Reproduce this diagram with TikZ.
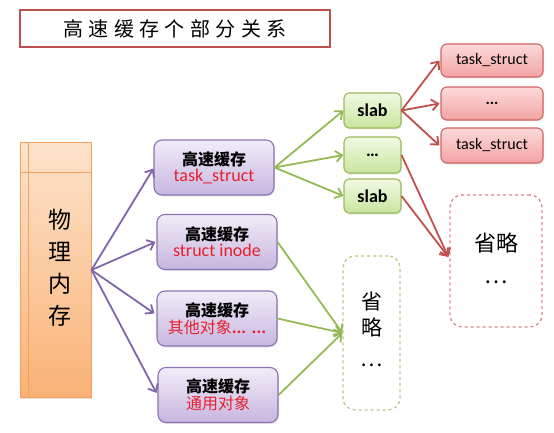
\documentclass[tikz,border=0pt]{standalone}
\usepackage{fontspec}
\setmainfont{Carlito}
\newfontfamily\cjk{Noto Sans CJK SC}
\usetikzlibrary{arrows.meta,shadows,calc}
\definecolor{pborder}{HTML}{8B72B0}
\definecolor{ptop}{HTML}{F1ECF8}
\definecolor{pbot}{HTML}{C7B6E0}
\definecolor{gborder}{HTML}{9BBB59}
\definecolor{gtop}{HTML}{F2F9E4}
\definecolor{gbot}{HTML}{C9E59E}
\definecolor{rborder}{HTML}{D06562}
\definecolor{rtop}{HTML}{FCDADA}
\definecolor{rbot}{HTML}{F3A3A3}
\definecolor{oborder}{HTML}{F5A05A}
\definecolor{otop}{HTML}{FDE3CB}
\definecolor{obot}{HTML}{F9B276}
\definecolor{titleborder}{HTML}{C0504D}
\definecolor{redtext}{HTML}{E8202E}
\definecolor{parrow}{HTML}{7F66AA}
\definecolor{garrow}{HTML}{95B954}
\definecolor{rarrow}{HTML}{C0504D}
\definecolor{rdash}{HTML}{D48A88}
\definecolor{gdash}{HTML}{B5CC8A}
\begin{document}
\begin{tikzpicture}[x=1pt,y=-1pt,
  shade/.style={drop shadow={opacity=0.2,shadow xshift=1pt,shadow yshift=-1.5pt}},
  cache/.style={shade,rounded corners=8pt,draw=pborder,line width=1.1pt,
    top color=ptop,bottom color=pbot,minimum width=120pt,minimum height=55pt,
    align=center,inner sep=0pt},
  slabbox/.style={shade,rounded corners=5pt,draw=gborder,line width=1.1pt,
    top color=gtop,bottom color=gbot,minimum width=57pt,inner sep=0pt,
    font=\fontsize{18}{20}\selectfont\bfseries},
  objbox/.style={shade,rounded corners=6pt,draw=rborder,line width=1.1pt,
    top color=rtop,bottom color=rbot,minimum width=102pt,inner sep=0pt,
    font=\fontsize{16}{18}\selectfont},
  dashbox/.style={rounded corners=12pt,dashed,line width=1.3pt,inner sep=0pt,fill=white},
  arr/.style={line width=1.8pt,-{Straight Barb[length=6.5pt,width=11pt,line width=1.8pt]}},
  parr/.style={arr,draw=parrow},
  garr/.style={arr,draw=garrow},
  rarr/.style={arr,draw=rarrow}
]
\useasboundingbox (0,0) rectangle (554,433);

% title
\node[draw=titleborder,line width=1.6pt,fill=white,minimum width=310pt,minimum height=37pt,inner sep=0pt]
  (title) at (175,28.5) {\cjk\fontsize{20}{24}\selectfont\addfontfeatures{LetterSpace=27}高速缓存个部分关系};

% physical memory
\node[shade,draw=oborder,line width=1pt,top color=otop,bottom color=obot,
  minimum width=71pt,minimum height=254pt,inner sep=0pt] (mem) at (55.5,270)
  {\hspace*{8pt}\raisebox{-20pt}{\cjk\fontsize{23}{32}\selectfont\begin{tabular}{@{}c@{}}物\\理\\内\\存\end{tabular}}};
\draw[draw=oborder,line width=0.9pt] ([xshift=9pt]mem.north west) -- ([xshift=9pt]mem.south west);
\draw[draw=oborder,line width=0.9pt] ([yshift=-30pt]mem.north west) -- ([yshift=-30pt]mem.north east);

% caches
\node[cache] (c1) at (214,167.5) {{\cjk\fontsize{16}{18}\selectfont\bfseries 高速缓存}\\[1pt]{\fontsize{18}{20}\selectfont\color{redtext}task\_struct}};
\node[cache] (c2) at (217,242) {{\cjk\fontsize{16}{18}\selectfont\bfseries 高速缓存}\\[1pt]{\fontsize{18}{20}\selectfont\color{redtext}struct inode}};
\node[cache] (c3) at (217,318.5) {{\cjk\fontsize{16}{18}\selectfont\bfseries 高速缓存}\\[1pt]{\color{redtext}{\cjk\fontsize{16}{18}\selectfont 其他对象}\fontsize{18}{20}\selectfont\bfseries... ...}};
\node[cache] (c4) at (218,395) {{\cjk\fontsize{16}{18}\selectfont\bfseries 高速缓存}\\[1pt]{\cjk\fontsize{16}{18}\selectfont\color{redtext}通用对象}};

% slabs
\node[slabbox,minimum height=35pt] (s1) at (372.5,110.5) {slab};
\node[slabbox,minimum height=36pt] (s2) at (372.5,155) {…};
\node[slabbox,minimum height=34pt] (s3) at (372.5,196) {slab};

% objects
\node[objbox,minimum height=33pt] (o1) at (492,60.5) {task\_struct};
\node[objbox,minimum height=33pt] (o2) at (492,103.5) {\bfseries ...};
\node[objbox,minimum height=35pt] (o3) at (492,145.5) {task\_struct};

% dashed boxes
\node[dashbox,draw=rdash,minimum width=92pt,minimum height=132pt] (rd) at (496,261)
  {\raisebox{10pt}{\cjk\fontsize{22}{32}\selectfont\begin{tabular}{@{}c@{}}省略\\…\end{tabular}}};
\node[dashbox,draw=gdash,minimum width=57pt,minimum height=154pt] (gd) at (371.5,333)
  {\raisebox{-3pt}{\cjk\fontsize{21}{25}\selectfont\begin{tabular}{@{}c@{}}省\\略\\[6pt]…\end{tabular}}};

% purple arrows
\draw[parr] (mem.east) -- ([yshift=-1pt]c1.west);
\draw[parr] (mem.east) -- ([xshift=-1pt]c2.west);
\draw[parr] (mem.east) -- ([xshift=-2pt,yshift=5pt]c3.west);
\draw[parr] (mem.east) -- ([xshift=-1pt,yshift=2pt]c4.west);

% green arrows
\draw[garr] (c1.east) -- (s1.west);
\draw[garr] (c1.east) -- (s2.west);
\draw[garr] (c1.east) -- (s3.west);
\draw[garr] (c2.east) -- (gd.west);
\draw[garr] (c3.east) -- (gd.west);
\draw[garr] (c4.east) -- (gd.west);

% red arrows
\draw[rarr] (s1.east) -- ([xshift=-1pt]o1.west);
\draw[rarr] (s1.east) -- ([xshift=-1pt]o2.west);
\draw[rarr] (s1.east) -- ([xshift=-1pt]o3.west);
\draw[rarr] (s2.east) -- ([xshift=-1pt,yshift=4pt]rd.west);
\draw[rarr] (s3.east) -- ([xshift=-1pt,yshift=4pt]rd.west);
\end{tikzpicture}
\end{document}
